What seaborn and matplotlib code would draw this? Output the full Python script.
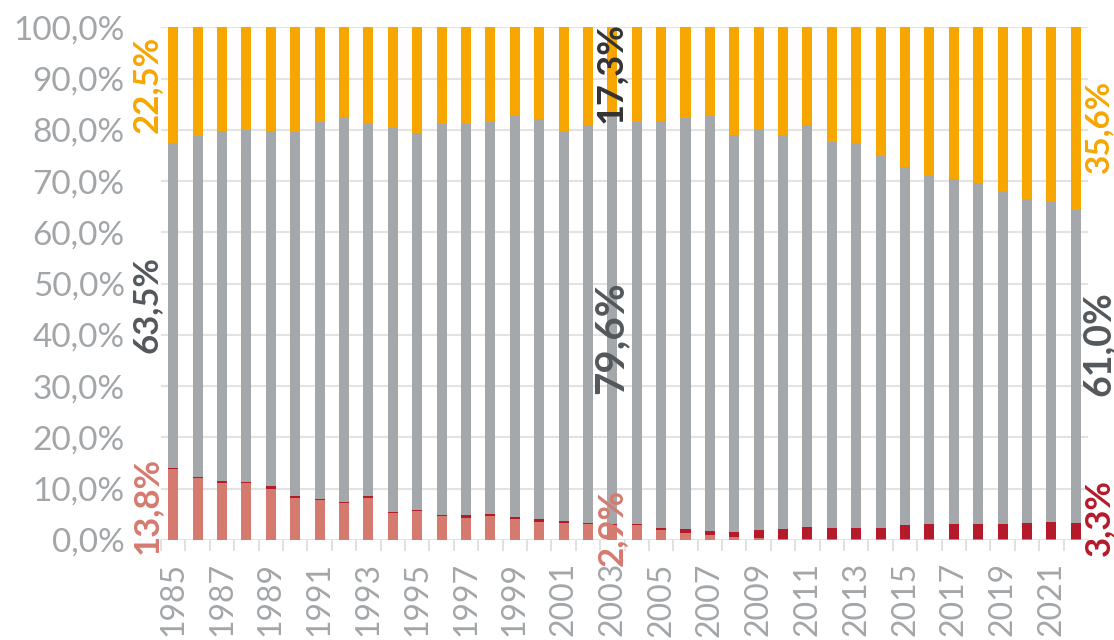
import pandas as pd
import seaborn as sns
import matplotlib.pyplot as plt

years = list(range(1985, 2023))

# shares in %, stacked bottom to top
share_light_red = [13.8, 12.0, 11.1, 11.2, 10.0, 8.2, 7.8, 7.2, 8.1, 5.3,
                   5.6, 4.7, 4.2, 4.6, 4.1, 3.6, 3.4, 3.1, 2.9, 3.0,
                   2.0, 1.3, 0.9, 0.5, 0.3, 0.2, 0.1, 0.1, 0.1, 0.1,
                   0.1, 0.1, 0.1, 0.1, 0.1, 0.1, 0.1, 0.1]
share_dark_red = [0.2, 0.3, 0.4, 0.2, 0.5, 0.4, 0.2, 0.3, 0.4, 0.2,
                  0.2, 0.2, 0.7, 0.5, 0.4, 0.4, 0.3, 0.2, 0.2, 0.2,
                  0.4, 0.8, 0.9, 1.0, 1.6, 1.9, 2.4, 2.3, 2.2, 2.2,
                  2.9, 3.1, 3.1, 3.0, 3.1, 3.2, 3.4, 3.3]
share_gray = [63.5, 66.6, 68.3, 68.6, 69.2, 71.0, 73.6, 75.1, 72.6, 74.8,
              73.6, 76.2, 76.3, 76.4, 78.2, 78.1, 76.1, 77.6, 79.6, 78.3,
              79.3, 80.3, 81.0, 77.5, 78.3, 77.0, 78.4, 75.2, 75.1, 72.7,
              69.7, 67.8, 67.2, 66.5, 64.8, 63.3, 62.5, 61.0]
share_orange = [22.5, 21.1, 20.2, 20.0, 20.3, 20.4, 18.4, 17.4, 18.9, 19.7,
                20.6, 18.9, 18.8, 18.5, 17.3, 17.9, 20.2, 19.1, 17.3, 18.5,
                18.3, 17.6, 17.2, 21.0, 19.8, 20.9, 19.1, 22.4, 22.6, 25.0,
                27.3, 29.0, 29.6, 30.4, 32.0, 33.4, 34.0, 35.6]

y_ticks = [0, 10, 20, 30, 40, 50, 60, 70, 80, 90, 100]

COL_LIGHT_RED = '#D57A6E'
COL_DARK_RED = '#B51A2A'
COL_GRAY = '#A5A8AB'
COL_ORANGE = '#F7A600'
COL_TICK = '#A2A6A9'
COL_LABEL = '#53585C'

sns.set_style('white')
plt.rcParams['font.family'] = ['Lato', 'DejaVu Sans']

df = pd.DataFrame({
    'year': [str(y) for y in years],
    'light_red': share_light_red,
    'dark_red': share_dark_red,
    'gray': share_gray,
    'orange': share_orange,
})
# cumulative heights, drawn from the tallest down so each layer overlays
df['c_light_red'] = df['light_red']
df['c_dark_red'] = df['c_light_red'] + df['dark_red']
df['c_gray'] = df['c_dark_red'] + df['gray']
df['c_orange'] = df['c_gray'] + df['orange']

fig = plt.figure(figsize=(11.14, 6.4), dpi=100)
ax = fig.add_axes([0.1445, 0.15625, 0.8322, 0.801])

layers = [('c_orange', COL_ORANGE), ('c_gray', COL_GRAY),
          ('c_dark_red', COL_DARK_RED), ('c_light_red', COL_LIGHT_RED)]
for col, color in layers:
    sns.barplot(data=df, x='year', y=col, color=color, saturation=1,
                width=0.41, linewidth=0, ax=ax)

ax.set_xlabel('')
ax.set_ylabel('')
ax.set_xlim(-0.5, len(years) - 0.5)
ax.set_ylim(0, 100)

# y axis
ax.set_yticks(y_ticks)
ax.set_yticklabels([f'{v:.1f}%'.replace('.', ',') for v in y_ticks])
ax.tick_params(axis='y', length=0, pad=26, labelsize=24, labelcolor=COL_TICK)
ax.yaxis.grid(True, color='#E3E3E3', linewidth=1.5)
ax.set_axisbelow(True)

# x axis: label every other year, ticks between categories
ax.set_xticks(range(0, len(years), 2))
ax.set_xticklabels([str(y) for y in years[::2]], rotation=90)
ax.set_xticks([i - 0.5 for i in range(len(years) + 1)], minor=True)
ax.tick_params(axis='x', which='major', length=0, pad=16, labelsize=23,
               labelcolor=COL_TICK)
ax.tick_params(axis='x', which='minor', length=8, width=1.2,
               color='#DCDCDC', direction='out', bottom=True)

for s in ax.spines.values():
    s.set_visible(False)


def pct(v):
    return f'{v:.1f}%'.replace('.', ',')


# value labels for first year, 2003 and last year
last = len(years) - 1
i03 = years.index(2003)
labels = [
    (-1.08, 88.9, pct(share_orange[0]), COL_ORANGE, 25),
    (-1.08, 46.0, pct(share_gray[0]), COL_LABEL, 25),
    (-1.08, 6.7, pct(share_light_red[0]), COL_LIGHT_RED, 25),
    (i03 - 0.04, 91.2, pct(share_orange[i03]), '#333333', 26),
    (i03 - 0.04, 39.4, pct(share_gray[i03]), COL_LABEL, 29),
    (i03 - 0.04, 2.4, pct(share_light_red[i03]), COL_LIGHT_RED, 25),
    (last + 0.95, 80.6, pct(share_orange[last]), COL_ORANGE, 24),
    (last + 0.95, 38.3, pct(share_gray[last]), COL_LABEL, 27),
    (last + 0.95, 4.4, pct(share_dark_red[last]), COL_DARK_RED, 25),
]
for x, y, txt, color, size in labels:
    ax.text(x, y, txt, rotation=90, ha='center', va='center',
            fontsize=size, fontweight='bold', color=color, clip_on=False)

fig.savefig('out.png', dpi=100)
